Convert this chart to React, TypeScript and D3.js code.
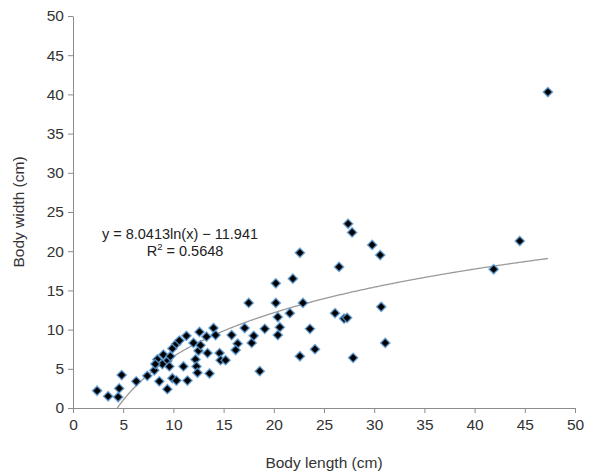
import * as d3 from "d3";
import React, { useEffect, useRef } from "react";

// body length (cm)
const lengths = [
  2.4, 3.5, 4.5, 4.6, 4.85,
  6.3, 7.4, 8.1, 8.6, 8.4, 9.0, 9.4, 9.6, 9.4, 9.9, 10.3, 9.9, 10.3, 11.0, 11.3,
  11.4, 12.0, 12.5, 12.7, 12.6, 13.3, 12.2, 12.3, 12.4, 13.4, 13.6, 14.0, 14.2,
  14.6, 14.7, 15.2, 15.8, 16.4, 16.2, 17.1, 8.9, 9.7, 10.6, 8.2,
  17.5, 17.8, 18.0, 18.6, 19.1, 20.2, 20.2, 20.4, 20.6, 20.4, 21.6, 21.9, 22.6,
  22.9, 22.6, 23.6, 24.1, 26.1, 26.5, 27.0, 27.3, 27.4, 27.8, 27.9, 29.8, 30.6,
  30.7, 31.1, 41.9, 44.5, 47.3,
];

// body width (cm)
const widths = [
  2.2, 1.5, 1.4, 2.5, 4.2,
  3.4, 4.1, 4.8, 3.4, 6.2, 6.8, 6.0, 5.3, 2.4, 7.6, 8.2, 3.8, 3.5, 5.3, 9.2,
  3.5, 8.3, 7.3, 8.0, 9.7, 9.1, 6.2, 5.3, 4.5, 7.0, 4.4, 10.2, 9.3,
  7.0, 6.1, 6.1, 9.3, 8.2, 7.4, 10.2, 5.6, 6.6, 8.6, 5.6,
  13.4, 8.3, 9.2, 4.7, 10.1, 15.9, 13.4, 11.6, 10.3, 9.3, 12.1, 16.5, 19.8,
  13.4, 6.6, 10.1, 7.5, 12.1, 18.0, 11.4, 11.5, 23.5, 22.4, 6.4, 20.8, 19.5,
  12.9, 8.3, 17.7, 21.3, 40.3,
];

const ticks = [0, 5, 10, 15, 20, 25, 30, 35, 40, 45, 50];

// logarithmic trend: y = a ln(x) + b
const trendA = 8.0413;
const trendB = -11.941;
const trendEnd = 47.3;

const App = () => {
  const ref = useRef<SVGSVGElement>(null);

  useEffect(() => {
    const svg = d3.select(ref.current);
    svg.selectAll("*").remove();

    const width = 614;
    const height = 476;
    const margin = { top: 16, right: 39, bottom: 68, left: 73 };

    const x = d3.scaleLinear().domain([0, 50]).range([margin.left, width - margin.right]);
    const y = d3.scaleLinear().domain([0, 50]).range([height - margin.bottom, margin.top]);

    const font = "'Liberation Sans', Arial, sans-serif";
    const axisColor = "#8c8c8c";

    const xAxis = svg
      .append("g")
      .attr("transform", `translate(0,${y(0)})`)
      .call(d3.axisBottom(x).tickValues(ticks).tickSize(5).tickPadding(6).tickSizeOuter(0));
    const yAxis = svg
      .append("g")
      .attr("transform", `translate(${x(0)},0)`)
      .call(d3.axisLeft(y).tickValues(ticks).tickSize(5).tickPadding(4).tickSizeOuter(0));

    [xAxis, yAxis].forEach((g) => {
      g.select(".domain").attr("stroke", axisColor);
      g.selectAll(".tick line").attr("stroke", axisColor);
      g.selectAll(".tick text")
        .attr("fill", "#333")
        .style("font-family", font)
        .style("font-size", "15.5px");
    });

    // trend line
    const lineData = d3.range(Math.exp(-trendB / trendA), trendEnd, 0.1).concat([trendEnd]);
    const line = d3
      .line<number>()
      .x((d) => x(d))
      .y((d) => y(Math.max(0, trendA * Math.log(d) + trendB)));
    svg
      .append("path")
      .datum(lineData)
      .attr("d", line)
      .attr("fill", "none")
      .attr("stroke", "#9a9a9a")
      .attr("stroke-width", 1.3);

    // points
    const symbol = d3.symbol().type(d3.symbolDiamond2).size(54);
    svg
      .append("g")
      .selectAll("path")
      .data(lengths.map((l, i) => [l, widths[i]]))
      .enter()
      .append("path")
      .attr("d", symbol)
      .attr("transform", (d) => `translate(${x(d[0])},${y(d[1])})`)
      .attr("fill", "#000")
      .attr("stroke", "#5b9bd5")
      .attr("stroke-opacity", 0.8)
      .attr("stroke-width", 1.5);

    // equation
    svg
      .append("text")
      .attr("x", 180)
      .attr("y", 239)
      .attr("text-anchor", "middle")
      .style("font-family", font)
      .style("font-size", "14.5px")
      .attr("fill", "#222")
      .text("y = 8.0413ln(x) − 11.941");
    const r2 = svg
      .append("text")
      .attr("x", 185)
      .attr("y", 256)
      .attr("text-anchor", "middle")
      .style("font-family", font)
      .style("font-size", "14.5px")
      .attr("fill", "#222");
    r2.append("tspan").text("R");
    r2.append("tspan").attr("dy", -6).style("font-size", "9.5px").text("2");
    r2.append("tspan").attr("dy", 6).text(" = 0.5648");

    // axis titles
    svg
      .append("text")
      .attr("x", 324)
      .attr("y", 468)
      .attr("text-anchor", "middle")
      .style("font-family", font)
      .style("font-size", "15.5px")
      .attr("fill", "#333")
      .text("Body length (cm)");
    svg
      .append("text")
      .attr("transform", `translate(24,${212}) rotate(-90)`)
      .attr("text-anchor", "middle")
      .style("font-family", font)
      .style("font-size", "15.5px")
      .attr("fill", "#333")
      .text("Body width (cm)");
  }, []);

  return (
    <svg
      ref={ref}
      width={614}
      height={476}
      style={{ position: "absolute", left: 0, top: 0, background: "#fff" }}
    />
  );
};

export default App;
